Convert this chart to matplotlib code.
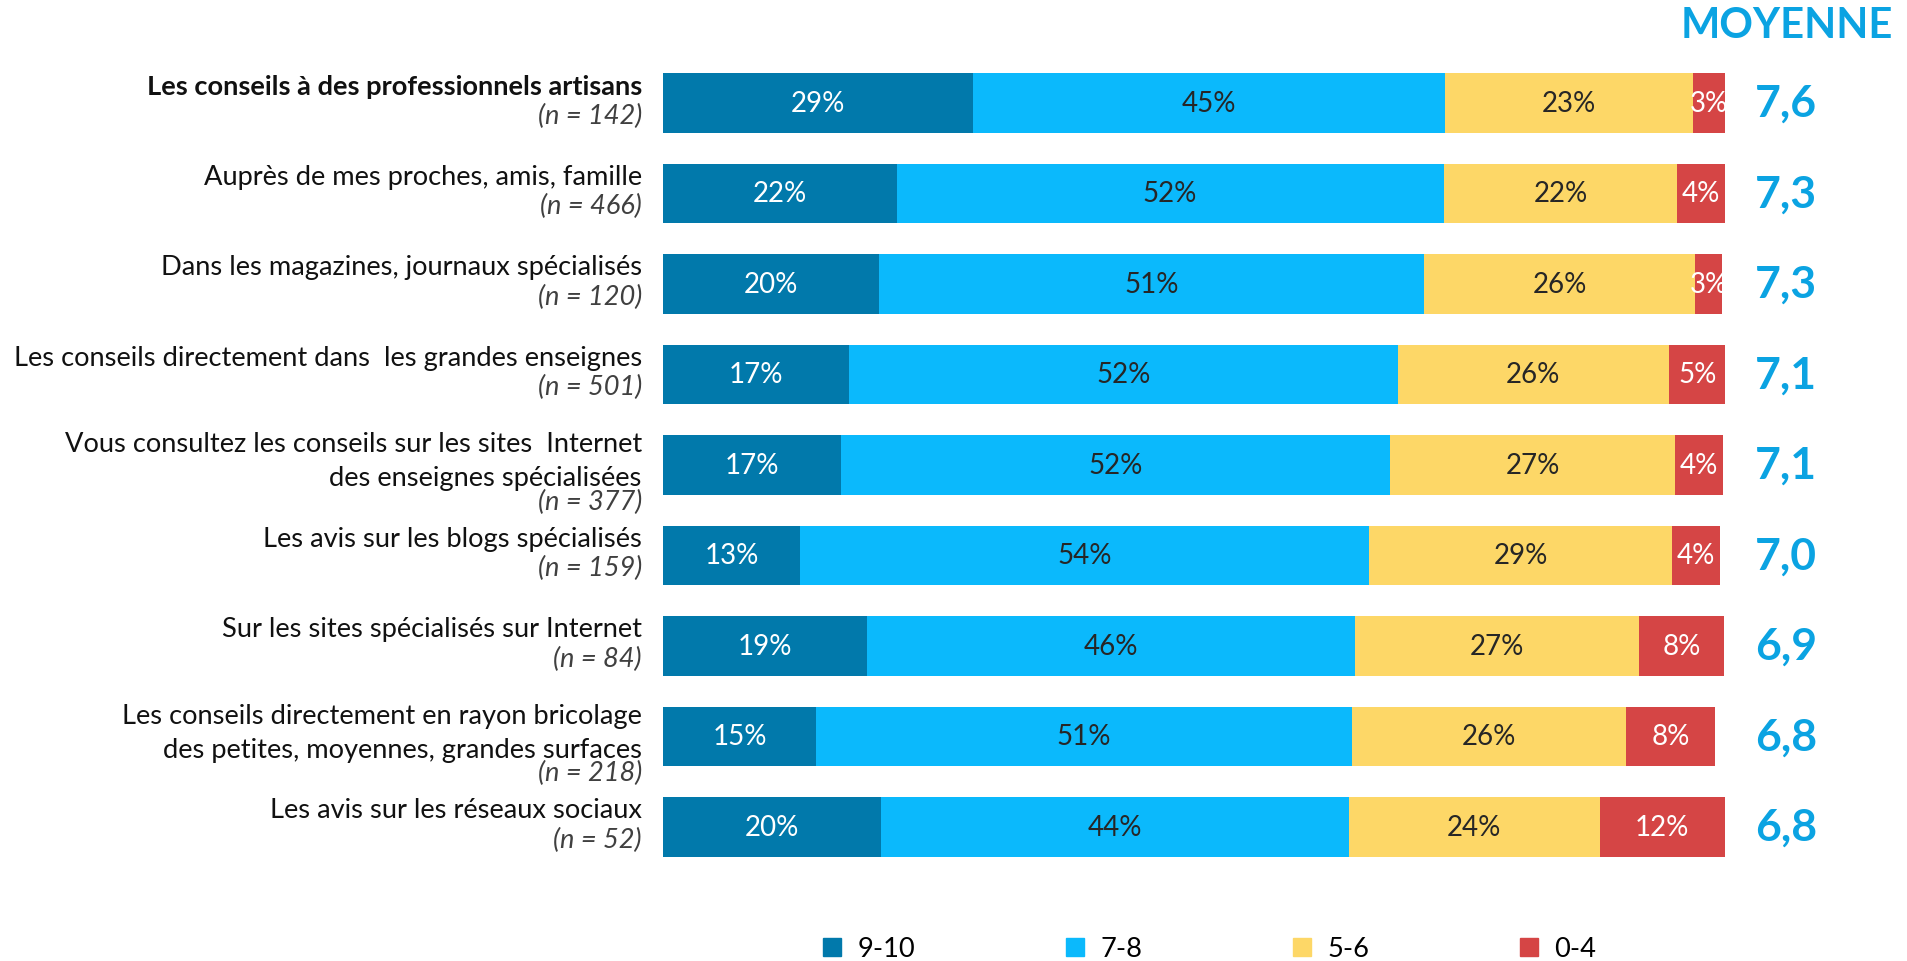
import numpy as np
import matplotlib.pyplot as plt
from matplotlib.patches import Patch

plt.rcParams['font.family'] = ['Lato', 'DejaVu Sans']

# données
labels = [
    'Les conseils à des professionnels artisans',
    'Auprès de mes proches, amis, famille',
    'Dans les magazines, journaux spécialisés',
    'Les conseils directement dans  les grandes enseignes',
    'Vous consultez les conseils sur les sites  Internet\ndes enseignes spécialisées',
    'Les avis sur les blogs spécialisés',
    'Sur les sites spécialisés sur Internet',
    'Les conseils directement en rayon bricolage\ndes petites, moyennes, grandes surfaces',
    'Les avis sur les réseaux sociaux',
]
n_base = [142, 466, 120, 501, 377, 159, 84, 218, 52]

s_9_10 = [29.2, 22.0, 20.3, 17.5, 16.8, 12.9, 19.2, 14.4, 20.5]
s_7_8 = [44.4, 51.5, 51.4, 51.7, 51.7, 53.6, 46.0, 50.5, 44.1]
s_5_6 = [23.4, 22.0, 25.5, 25.5, 26.8, 28.5, 26.7, 25.8, 23.6]
s_0_4 = [3.0, 4.5, 2.5, 5.5, 4.5, 4.5, 8.0, 8.4, 11.8]

lab_9_10 = [29, 22, 20, 17, 17, 13, 19, 15, 20]
lab_7_8 = [45, 52, 51, 52, 52, 54, 46, 51, 44]
lab_5_6 = [23, 22, 26, 26, 27, 29, 27, 26, 24]
lab_0_4 = [3, 4, 3, 5, 4, 4, 8, 8, 12]

moyenne = ['7,6', '7,3', '7,3', '7,1', '7,1', '7,0', '6,9', '6,8', '6,8']

series = [('9-10', s_9_10, lab_9_10, '#0179AB', 'white'),
          ('7-8', s_7_8, lab_7_8, '#0BB9FC', '#262626'),
          ('5-6', s_5_6, lab_5_6, '#FDD767', '#262626'),
          ('0-4', s_0_4, lab_0_4, '#D54545', 'white')]

W, H = 1908, 962
fig = plt.figure(figsize=(W / 100, H / 100), dpi=100)
ax = fig.add_axes([663 / W, 1 - 873.25 / H, 1062 / W, 814.5 / H])
ax.set_xlim(0, 100)
ax.set_ylim(8.5, -0.5)
ax.axis('off')

px = 1 / 90.5  # un pixel en unités y
y = np.arange(len(labels))
left = np.zeros(len(labels))
handles = []
for name, vals, labs, col, tcol in series:
    bars = ax.barh(y, vals, left=left, height=0.66, color=col, label=name)
    handles.append(Patch(color=col, label=name))
    for i, b in enumerate(bars):
        t = ax.text(left[i] + vals[i] / 2, y[i], '%d%%' % labs[i], ha='center', va='center',
                    fontsize=20, color=tcol)
        t.set_clip_path(b)
    left += np.array(vals)

# libellés à gauche
for i, lab in enumerate(labels):
    lines = lab.split('\n')
    if len(lines) == 1:
        y0, n_off = -17, 12
    else:
        y0, n_off = -21, 36
    for k, line in enumerate(lines):
        ax.text(-2.0, i + (y0 + 34 * k) * px, line, ha='right', va='center', fontsize=19.6,
                color='#111111', fontweight='bold' if i == 0 else 'normal', clip_on=False)
    ax.text(-2.0, i + n_off * px, '(n = %d)' % n_base[i], ha='right', va='center', fontsize=19.6,
            color='#404040', style='italic', clip_on=False)

# moyennes
for i, m in enumerate(moyenne):
    ax.text(105.75, i, m, ha='center', va='center', fontsize=32, fontweight='bold',
            color='#0BA3E2', clip_on=False)
ax.text(105.8, -0.86, 'MOYENNE', ha='center', va='center', fontsize=30, fontweight='bold',
        color='#0BA3E2', clip_on=False)

fig.legend(handles=handles, ncol=4, loc='center', bbox_to_anchor=(0.634, 0.0125),
           frameon=False, fontsize=19.6, handlelength=0.65, handleheight=0.65,
           handletextpad=0.6, columnspacing=5.55)

fig.savefig('out.png', dpi=100)
